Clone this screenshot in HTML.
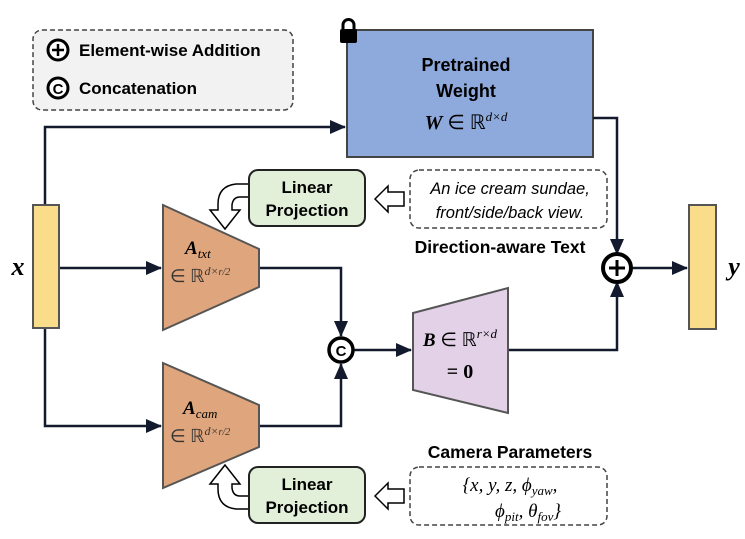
<!DOCTYPE html>
<html><head><meta charset="utf-8"><style>
body{margin:0;background:#fff;}
svg{display:block;}
text{font-family:"Liberation Sans",sans-serif;}
.s{font-family:"Liberation Serif",serif;}
</style></head><body>
<svg width="745" height="539" viewBox="0 0 745 539" xmlns="http://www.w3.org/2000/svg">
<defs>
<marker id="ah2" markerWidth="16" markerHeight="14" refX="15" refY="7" orient="auto" markerUnits="userSpaceOnUse">
<path d="M0,0 L16,7 L0,14 Z" fill="#141a2e"/></marker>
</defs>
<rect x="33" y="30" width="260" height="80" rx="9" fill="#f2f2f2" stroke="#444" stroke-width="1.5" stroke-dasharray="5,3"/>
<circle cx="58" cy="50" r="10" fill="#fff" stroke="#000" stroke-width="3"/>
<path d="M52,50 H64 M58,44 V56" stroke="#000" stroke-width="2.5"/>
<text x="79" y="56" font-size="17" font-weight="bold">Element-wise Addition</text>
<circle cx="58" cy="88" r="10" fill="#fff" stroke="#000" stroke-width="3"/>
<text x="58" y="94" font-size="15" font-weight="bold" text-anchor="middle">C</text>
<text x="79" y="94" font-size="17" font-weight="bold">Concatenation</text>
<rect x="347" y="30" width="246" height="127" fill="#8eaadc" stroke="#444" stroke-width="2"/>
<rect x="340" y="29" width="17" height="14" rx="2" fill="#000"/>
<path d="M343,30 V25 a5.5,5.5 0 0 1 11,0 V30" fill="none" stroke="#000" stroke-width="3"/>
<text x="466" y="71" font-size="18" font-weight="bold" text-anchor="middle">Pretrained</text>
<text x="466" y="97" font-size="18" font-weight="bold" text-anchor="middle">Weight</text>
<text x="466" y="129" font-size="20" text-anchor="middle" class="s"><tspan font-weight="bold" font-style="italic">W</tspan> ∈ ℝ<tspan font-size="13" dy="-8" font-style="italic">d×d</tspan></text>
<g fill="none" stroke="#141a2e" stroke-width="2.5">
<path d="M45,205 V127 H345" marker-end="url(#ah2)"/>
<path d="M59,268 H161" marker-end="url(#ah2)"/>
<path d="M45,328 V426 H161" marker-end="url(#ah2)"/>
<path d="M259,268 H341 V336" marker-end="url(#ah2)"/>
<path d="M259,426 H341 V364" marker-end="url(#ah2)"/>
<path d="M354,350 H411" marker-end="url(#ah2)"/>
<path d="M508,350 H617 V282" marker-end="url(#ah2)"/>
<path d="M593,118 H617 V254" marker-end="url(#ah2)"/>
<path d="M631,268 H687" marker-end="url(#ah2)"/>
</g>
<rect x="33" y="205" width="26" height="123" fill="#f9dd8b" stroke="#555" stroke-width="2"/>
<rect x="689" y="205" width="27" height="124" fill="#f9dd8b" stroke="#555" stroke-width="2"/>
<text x="18" y="275" font-size="26" font-weight="bold" font-style="italic" text-anchor="middle" class="s">x</text>
<text x="734" y="275" font-size="26" font-weight="bold" font-style="italic" text-anchor="middle" class="s">y</text>
<polygon points="163,205 259,249 259,287 163,330" fill="#dfa57c" stroke="#555" stroke-width="2"/>
<text x="185" y="254" font-size="19" class="s"><tspan font-weight="bold" font-style="italic">A</tspan><tspan font-size="13" dy="4" font-style="italic">txt</tspan></text>
<text x="170" y="282" font-size="18" class="s" fill="#333">∈ ℝ<tspan font-size="12" dy="-7" font-style="italic">d×</tspan><tspan font-size="10" font-style="italic">r/2</tspan></text>
<polygon points="163,363 259,405 259,447 163,488" fill="#dfa57c" stroke="#555" stroke-width="2"/>
<text x="183" y="414" font-size="19" class="s"><tspan font-weight="bold" font-style="italic">A</tspan><tspan font-size="13" dy="4" font-style="italic">cam</tspan></text>
<text x="170" y="442" font-size="18" class="s" fill="#333">∈ ℝ<tspan font-size="12" dy="-7" font-style="italic">d×</tspan><tspan font-size="10" font-style="italic">r/2</tspan></text>
<polygon points="413,313 508,288 508,413 413,390" fill="#e2d1e7" stroke="#555" stroke-width="2"/>
<text x="460" y="346" font-size="19" text-anchor="middle" class="s"><tspan font-weight="bold" font-style="italic">B</tspan> ∈ ℝ<tspan font-size="13" dy="-8" font-style="italic">r×d</tspan></text>
<text x="460" y="378" font-size="20" font-weight="bold" text-anchor="middle" class="s">= 0</text>
<circle cx="341" cy="350" r="12" fill="#fff" stroke="#000" stroke-width="3.5"/>
<text x="341" y="356" font-size="15" font-weight="bold" text-anchor="middle">C</text>
<circle cx="617" cy="268" r="14" fill="#fff" stroke="#000" stroke-width="4"/>
<path d="M609,268 H625 M617,260 V276" stroke="#000" stroke-width="3"/>
<rect x="249" y="170" width="116" height="56" rx="9" fill="#e2efd9" stroke="#222" stroke-width="2"/>
<text x="307" y="193" font-size="17" font-weight="bold" text-anchor="middle">Linear</text>
<text x="307" y="216" font-size="17" font-weight="bold" text-anchor="middle">Projection</text>
<rect x="410" y="170" width="197" height="58" rx="9" fill="#fff" stroke="#444" stroke-width="1.5" stroke-dasharray="5,3"/>
<text x="510" y="194" font-size="16.5" font-style="italic" text-anchor="middle">An ice cream sundae,</text>
<text x="510" y="218" font-size="16.5" font-style="italic" text-anchor="middle">front/side/back view.</text>
<path d="M404,192 H388 V186 L375,199 L388,212 V206 H404 Z" fill="#fff" stroke="#000" stroke-width="1.5"/>
<path d="M248,184 H236 Q218,186 218,204 V210 H210 L225,229 L240,210 H232 V205 Q233,197 240,197 H248" fill="#fff" stroke="#000" stroke-width="1.5"/>
<text x="500" y="253" font-size="17.5" font-weight="bold" text-anchor="middle">Direction-aware Text</text>
<rect x="249" y="467" width="116" height="56" rx="9" fill="#e2efd9" stroke="#222" stroke-width="2"/>
<text x="307" y="490" font-size="17" font-weight="bold" text-anchor="middle">Linear</text>
<text x="307" y="513" font-size="17" font-weight="bold" text-anchor="middle">Projection</text>
<rect x="410" y="467" width="197" height="58" rx="9" fill="#fff" stroke="#444" stroke-width="1.5" stroke-dasharray="5,3"/>
<text x="510" y="491" font-size="19" font-style="italic" text-anchor="middle" class="s">{x, y, z, ϕ<tspan font-size="13" dy="4">yaw</tspan><tspan dy="-4">,</tspan></text>
<text x="528" y="517" font-size="19" font-style="italic" text-anchor="middle" class="s">ϕ<tspan font-size="13" dy="4">pit</tspan><tspan dy="-4">, θ</tspan><tspan font-size="13" dy="4">fov</tspan><tspan dy="-4">}</tspan></text>
<path d="M404,489 H388 V483 L375,496 L388,509 V503 H404 Z" fill="#fff" stroke="#000" stroke-width="1.5"/>
<path d="M248,509 H236 Q218,507 218,489 V484 H210 L225,465 L240,484 H232 V488 Q233,496 240,496 H248" fill="#fff" stroke="#000" stroke-width="1.5"/>
<text x="510" y="458" font-size="17.5" font-weight="bold" text-anchor="middle">Camera Parameters</text>
</svg>
</body></html>
